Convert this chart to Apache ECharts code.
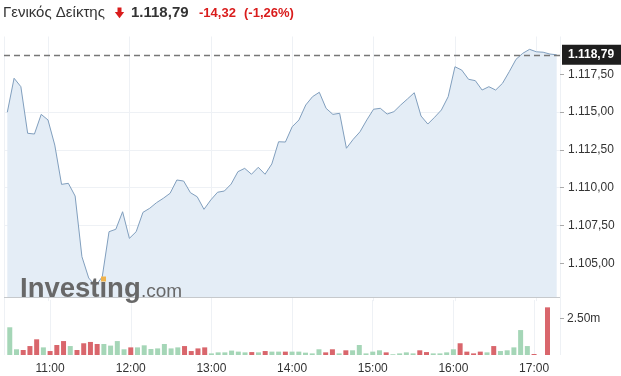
<!DOCTYPE html>
<html><head><meta charset="utf-8">
<script src="https://cdn.jsdelivr.net/npm/echarts@6/dist/echarts.min.js"></script>
<style>html,body{margin:0;padding:0;background:#fff}#c{width:621px;height:376px}</style>
</head><body><div id="c"></div>
<script>
const title = 'Γενικός Δείκτης';
const lastPrice = 1118.79;
const changeText = '-14,32';
const changePct = '(-1,26%)';
const times = ['10:30','10:35','10:40','10:45','10:50','10:55',
'11:00','11:05','11:10','11:15','11:20','11:25','11:30','11:35','11:40','11:45','11:50','11:55',
'12:00','12:05','12:10','12:15','12:20','12:25','12:30','12:35','12:40','12:45','12:50','12:55',
'13:00','13:05','13:10','13:15','13:20','13:25','13:30','13:35','13:40','13:45','13:50','13:55',
'14:00','14:05','14:10','14:15','14:20','14:25','14:30','14:35','14:40','14:45','14:50','14:55',
'15:00','15:05','15:10','15:15','15:20','15:25','15:30','15:35','15:40','15:45','15:50','15:55',
'16:00','16:05','16:10','16:15','16:20','16:25','16:30','16:35','16:40','16:45','16:50','16:55',
'17:00','17:05','17:10','17:15'];
const prices = [1114.99,1117.24,1116.68,1113.60,1113.55,1114.85,
1114.48,1112.82,1110.22,1110.29,1109.45,1105.44,1104.03,1103.50,1104.11,1107.09,1107.25,1108.41,
1106.65,1107.09,1108.37,1108.64,1109.01,1109.30,1109.63,1110.51,1110.44,1109.67,1109.40,1108.57,
1109.19,1109.70,1109.78,1110.24,1111.06,1111.28,1110.89,1111.35,1110.89,1111.57,1113.04,1113.02,
1114.03,1114.48,1115.47,1116.02,1116.31,1115.25,1114.85,1114.92,1112.61,1113.20,1113.70,1114.48,
1115.19,1115.25,1114.87,1115.03,1115.47,1115.87,1116.28,1114.74,1114.21,1114.66,1115.14,1116.02,
1118.00,1117.78,1117.17,1117.08,1116.46,1116.68,1116.46,1116.90,1117.67,1118.49,1118.89,1119.15,
1118.99,1118.96,1118.84,1118.79];
const volumes = [1.89,0.39,0.34,0.61,1.07,0.52,
0.27,0.68,0.95,0.61,0.34,0.80,0.89,0.75,0.75,0.64,0.95,0.39,
0.52,0.52,0.66,0.41,0.45,0.75,0.45,0.52,0.61,0.27,0.45,0.52,
0.11,0.18,0.18,0.30,0.23,0.18,0.20,0.18,0.27,0.23,0.23,0.23,
0.23,0.23,0.16,0.11,0.39,0.18,0.39,0.11,0.32,0.32,0.68,0.11,
0.23,0.32,0.18,0.05,0.11,0.18,0.11,0.32,0.20,0.11,0.11,0.18,
0.39,0.80,0.23,0.11,0.23,0.18,0.61,0.27,0.32,0.52,1.70,0.61,
0.07,null,3.25,null];
const volumeUp = [1,1,0,0,0,1,
0,0,0,1,0,0,0,0,1,1,1,1,
0,1,1,1,1,1,1,1,0,0,0,0,
1,1,1,1,1,1,0,1,0,1,1,0,
1,1,1,1,1,0,0,1,0,1,1,1,
1,1,0,1,1,1,1,0,0,1,1,1,
1,0,0,0,0,1,0,1,1,1,1,1,
0,0,0,0];
const priceTicks = [1105, 1107.5, 1110, 1112.5, 1115, 1117.5];
const volumeTicks = [2.5];

function toMs(t){const p=t.split(':');return Date.UTC(2019,5,14,+p[0],+p[1]);}
function grFmt(v){const s=v.toFixed(2).split('.');return s[0].replace(/\B(?=(\d{3})+(?!\d))/g,'.')+','+s[1];}

const FONT = 'Arial, "Liberation Sans", sans-serif';
const xMin = Date.UTC(2019,5,14,10,27,34);
const xMax = Date.UTC(2019,5,14,17,17,26);
const GL = 4, GW = 556;
const split = {show:true, lineStyle:{color:'#eef1f5', width:1}};

const chart = echarts.init(document.getElementById('c'), null, {renderer:'canvas'});
const timeAxisBase = {
  type:'time', min:xMin, max:xMax, minInterval:3600000, maxInterval:3600000, splitNumber:7,
  axisLine:{show:false}, axisTick:{show:false}, splitLine:split
};
chart.setOption({
  useUTC: true,
  animation:false,
  backgroundColor:'#fff',
  grid:[
    {left:GL, width:GW, top:36.5, height:264.6},
    {left:GL, width:GW, top:300, height:55}
  ],
  xAxis:[
    Object.assign({gridIndex:0, axisLabel:{show:false}}, timeAxisBase),
    Object.assign({gridIndex:1, axisLabel:{show:true, color:'#333', fontSize:12, fontFamily:FONT, margin:8,
      showMinLabel:false, showMaxLabel:false,
      formatter:function(v){const d=new Date(v);const h=d.getUTCHours(),m=d.getUTCMinutes();return (h<10?'0':'')+h+':'+(m<10?'0':'')+m;}}}, timeAxisBase)
  ],
  yAxis:[
    {gridIndex:0, type:'value', position:'right', min:1102.5, max:1120, interval:2.5,
     axisLine:{show:false},
     axisTick:{show:true, length:4, lineStyle:{color:'#aaa'}, customValues:priceTicks},
     axisLabel:{color:'#333', fontSize:12, fontFamily:FONT, margin:8, customValues:priceTicks,
       formatter:function(v){return priceTicks.indexOf(v)>=0?grFmt(v):'';}},
     splitLine:{show:true, showMinLine:false, showMaxLine:false, lineStyle:{color:'#eef1f5'}}},
    {gridIndex:1, type:'value', position:'right', min:0, max:3.75, interval:2.5,
     axisLine:{show:false},
     axisTick:{show:true, length:4, lineStyle:{color:'#aaa'}, customValues:volumeTicks},
     axisLabel:{color:'#333', fontSize:12, fontFamily:FONT, margin:7, customValues:volumeTicks,
       formatter:function(v){return v===2.5?'2.50m':'';}},
     splitLine:{show:false}}
  ],
  series:[
    {type:'line', xAxisIndex:0, yAxisIndex:0, symbol:'none', z:3,
     data: times.map((t,i)=>[toMs(t), prices[i]]),
     lineStyle:{color:'#819fbe', width:1},
     areaStyle:{color:'#e4edf6', opacity:1, origin:1102.75},
     markLine:{symbol:'none', silent:true, animation:false,
       data:[
         {yAxis:lastPrice, lineStyle:{type:[6,4], color:'#777', width:1.3},
          label:{show:true, position:'end', distance:2, formatter:()=>grFmt(lastPrice),
            color:'#fff', fontWeight:'bold', fontSize:12, fontFamily:FONT,
            backgroundColor:'#1e1e1e', padding:[4,7,4,6]}},
         {yAxis:1102.75, lineStyle:{type:'solid', color:'#c6c9cc', width:1}, label:{show:false}}
       ]}},
    {type:'bar', xAxisIndex:1, yAxisIndex:1, barWidth:5,
     data: times.map((t,i)=>({value:[toMs(t), volumes[i]],
       itemStyle:{color: volumeUp[i] ? '#a5d6b7' : '#d9666c'}}))}
  ],
  graphic:[
    {type:'text', x:3, y:13, z:100, style:{text:title, fontSize:15, fontFamily:FONT, fill:'#333', verticalAlign:'middle'}},
    {type:'rect', x:117.5, y:7.5, z:100, shape:{width:4, height:5}, style:{fill:'#d91c1c'}},
    {type:'polygon', z:100, shape:{points:[[114.8,12],[124.2,12],[119.5,18.2]]}, style:{fill:'#d91c1c'}},
    {type:'text', x:131, y:13, z:100, style:{text:grFmt(lastPrice), fontSize:15, fontWeight:'bold', fontFamily:FONT, fill:'#333', verticalAlign:'middle'}},
    {type:'text', x:199, y:13, z:100, style:{text:changeText, fontSize:13, fontWeight:'bold', fontFamily:FONT, fill:'#d91c1c', verticalAlign:'middle'}},
    {type:'text', x:244, y:13, z:100, style:{text:changePct, fontSize:13, fontWeight:'bold', fontFamily:FONT, fill:'#d91c1c', verticalAlign:'middle'}},
    {type:'text', x:20, y:289, z:100, style:{text:'Investing', fontSize:27.5, fontWeight:'bold', fontFamily:FONT, fill:'#686868', verticalAlign:'middle'}},
    {type:'text', x:141, y:291.5, z:100, style:{text:'.com', fontSize:19, fontFamily:FONT, fill:'#686868', verticalAlign:'middle'}},
    {type:'rect', x:101, y:276.5, z:101, shape:{width:5, height:5}, style:{fill:'#f0b24a'}}
  ]
});
</script></body></html>
